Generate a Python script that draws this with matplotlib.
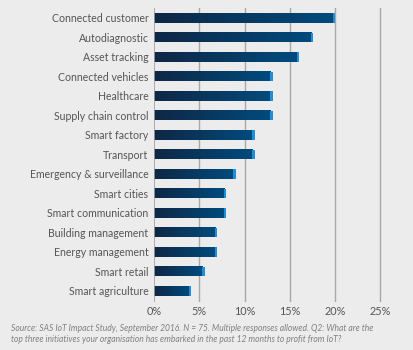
import numpy as np
import matplotlib as mpl
mpl.use('agg')
import matplotlib.pyplot as plt
from matplotlib.colors import LinearSegmentedColormap

categories = ['Connected customer', 'Autodiagnostic', 'Asset tracking',
              'Connected vehicles', 'Healthcare', 'Supply chain control',
              'Smart factory', 'Transport', 'Emergency & surveillance',
              'Smart cities', 'Smart communication', 'Building management',
              'Energy management', 'Smart retail', 'Smart agriculture']
values = [20.0, 17.6, 16.0, 13.1, 13.1, 13.1, 11.1, 11.1, 9.0, 8.0, 8.0,
          7.0, 7.0, 5.6, 4.1]
xticks = [0, 5, 10, 15, 20, 25]
source = ('Source: SAS IoT Impact Study, September 2016. N = 75. Multiple responses allowed. Q2: What are the\n'
          'top three initiatives your organisation has embarked in the past 12 months to profit from IoT?')

bg = '#ececec'
plt.rcParams['font.family'] = ['Lato', 'DejaVu Sans']

fig = plt.figure(figsize=(4.13, 3.5), dpi=100, facecolor=bg)
ax = fig.add_axes([0.373, 0.138, 0.581, 0.839], facecolor=bg)

grad_cmap = LinearSegmentedColormap.from_list('bar', ['#0f2745', '#004b7d'])
grad = np.linspace(0, 1, 256).reshape(1, -1)
h = 0.5
cap = 0.25

ypos = np.arange(len(categories))
for y, v in zip(ypos, values):
    ax.barh(y, v, height=h, color='#0f2745', zorder=2)
    ax.imshow(grad, cmap=grad_cmap, aspect='auto', zorder=3,
              extent=[0, v - cap, y + h / 2, y - h / 2])
    ax.barh(y, cap, left=v - cap, height=h, color='#1d8fd8', zorder=4)

ax.set_xlim(0, 26.5)
ax.set_ylim(14.55, -0.51)
ax.set_xticks(xticks)
ax.set_xticklabels([f'{t}%' for t in xticks], fontsize=7.8, color='#555555')
ax.set_yticks(ypos)
ax.set_yticklabels(categories, fontsize=7.6, color='#555555')
ax.tick_params(length=0, pad=4)
ax.tick_params(axis='x', pad=3)
for t in xticks[1:]:
    ax.axvline(t, color='#a8a8a8', lw=1.0, zorder=1)
ax.axvline(0, color='#a0a0a0', lw=1.2, zorder=5)
for s in ax.spines.values():
    s.set_visible(False)

fig.text(0.027, 0.046, source, fontsize=6.15, style='italic', color='#808080',
         va='center', linespacing=1.3)

fig.savefig('out.png', dpi=100, facecolor=bg)
